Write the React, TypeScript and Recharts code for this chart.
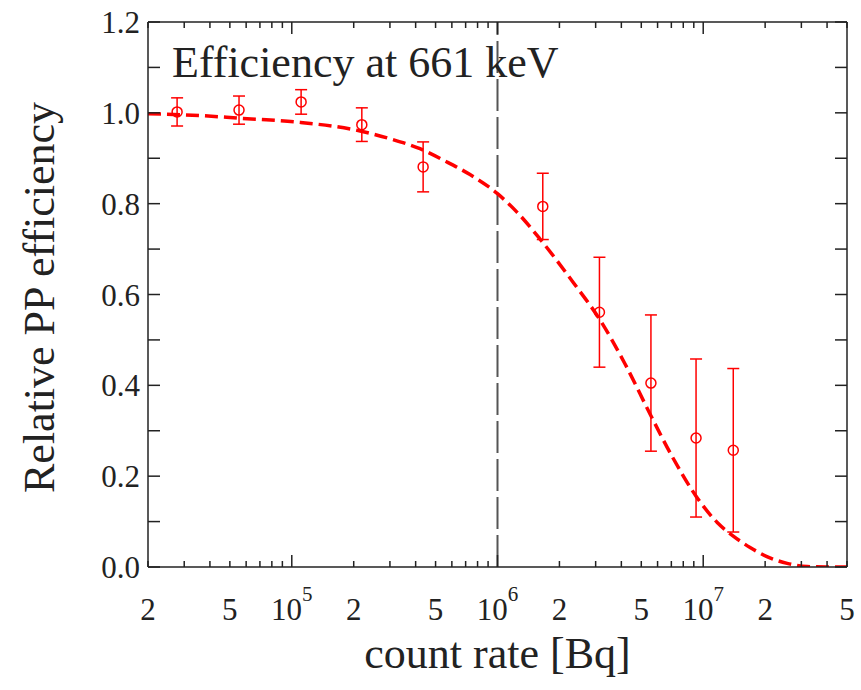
import React from "react";
import {
  ComposedChart,
  Line,
  Scatter,
  ErrorBar,
  XAxis,
  YAxis,
  ReferenceLine,
} from "recharts";

// measured points (count rate, relative efficiency, error)
const rateBq = [2.77e4, 5.54e4, 1.11e5, 2.19e5, 4.35e5, 1.66e6, 3.13e6, 5.57e6, 9.23e6, 1.4e7];
const efficiency = [1.002, 1.006, 1.024, 0.974, 0.881, 0.794, 0.561, 0.405, 0.284, 0.257];
const efficiencyErr = [0.031, 0.031, 0.027, 0.037, 0.055, 0.073, 0.121, 0.15, 0.174, 0.18];

// fit curve
const fitRate = [
  2.0e4, 3.6e4, 5.6e4, 1.1e5, 2.15e5, 3.0e5, 4.2e5, 5.56e5, 7.35e5, 1.0e6, 1.24e6, 1.61e6, 2.33e6,
  3.15e6, 4.17e6, 5.57e6, 7.13e6, 9.23e6, 1.17e7, 1.4e7, 1.69e7, 2.04e7, 2.56e7, 3.2e7, 4.0e7, 5.0e7,
];
const fitEff = [
  0.998, 0.994, 0.988, 0.979, 0.96, 0.943, 0.921, 0.894, 0.864, 0.822, 0.782, 0.722, 0.627,
  0.544, 0.447, 0.333, 0.24, 0.156, 0.098, 0.068, 0.043, 0.023, 0.008, 0.001, 0.0, 0.0,
];

const xTicks = [
  2e4, 3e4, 4e4, 5e4, 6e4, 7e4, 8e4, 9e4,
  1e5, 2e5, 3e5, 4e5, 5e5, 6e5, 7e5, 8e5, 9e5,
  1e6, 2e6, 3e6, 4e6, 5e6, 6e6, 7e6, 8e6, 9e6,
  1e7, 2e7, 3e7, 4e7, 5e7,
];
const xLabelTicks = [2e4, 5e4, 1e5, 2e5, 5e5, 1e6, 2e6, 5e6, 1e7, 2e7, 5e7];
const yTicks = [0, 0.1, 0.2, 0.3, 0.4, 0.5, 0.6, 0.7, 0.8, 0.9, 1.0, 1.1, 1.2];
const yLabelTicks = [0, 0.2, 0.4, 0.6, 0.8, 1.0, 1.2];

const FONT = "'Liberation Serif', 'Times New Roman', serif";
const RED = "#ff0000";
const AXIS = "#222";

const points = rateBq.map((x, i) => ({ x, y: efficiency[i], err: efficiencyErr[i] }));
const fit = fitRate.map((x, i) => ({ x, y: fitEff[i] }));

const isDecade = (v: number) => {
  const l = Math.log10(v);
  return Math.abs(l - Math.round(l)) < 1e-6;
};

const BottomTick = (props: any) => {
  const { x, y, payload } = props;
  const v = payload.value;
  const major = isDecade(v);
  const len = major ? 12 : 6;
  const labeled = xLabelTicks.some((t) => Math.abs(t - v) / t < 1e-6);
  let label: React.ReactNode = null;
  if (labeled) {
    if (major) {
      label = (
        <text x={x} y={y + 53} textAnchor="middle" fontFamily={FONT} fontSize={31} fill="#222">
          10
          <tspan fontSize={21} dy={-19}>
            {Math.round(Math.log10(v))}
          </tspan>
        </text>
      );
    } else {
      const mant = Math.round(v / Math.pow(10, Math.floor(Math.log10(v) + 1e-9)));
      label = (
        <text x={x} y={y + 53} textAnchor="middle" fontFamily={FONT} fontSize={31} fill="#222">
          {mant}
        </text>
      );
    }
  }
  return (
    <g>
      <line x1={x} y1={y} x2={x} y2={y - len} stroke={AXIS} strokeWidth={1.5} />
      {label}
    </g>
  );
};

const TopTick = (props: any) => {
  const { x, y, payload } = props;
  const len = isDecade(payload.value) ? 12 : 6;
  return <line x1={x} y1={y} x2={x} y2={y + len} stroke={AXIS} strokeWidth={1.5} />;
};

const LeftTick = (props: any) => {
  const { x, y, payload } = props;
  const v = payload.value;
  const labeled = yLabelTicks.some((t) => Math.abs(t - v) < 1e-6);
  return (
    <g>
      <line x1={x} y1={y} x2={x + 12} y2={y} stroke={AXIS} strokeWidth={1.5} />
      {labeled && (
        <text x={x - 8} y={y + 11} textAnchor="end" fontFamily={FONT} fontSize={31} fill="#222">
          {v.toFixed(1)}
        </text>
      )}
    </g>
  );
};

const RightTick = (props: any) => {
  const { x, y } = props;
  return <line x1={x} y1={y} x2={x - 12} y2={y} stroke={AXIS} strokeWidth={1.5} />;
};

const OpenCircle = (props: any) => {
  const { cx, cy } = props;
  return <circle cx={cx} cy={cy} r={5} fill="none" stroke={RED} strokeWidth={1.5} />;
};

export default function App() {
  return (
    <div style={{ position: "absolute", left: 0, top: 0, width: 861, height: 690, background: "#fff" }}>
      <ComposedChart width={861} height={690} margin={{ top: 21, right: 13, bottom: 13, left: 0 }}>
        <XAxis
          xAxisId="b"
          dataKey="x"
          type="number"
          scale="log"
          domain={[2e4, 5e7]}
          ticks={xTicks}
          interval={0}
          allowDataOverflow
          height={110}
          tickSize={0}
          tickMargin={0}
          tickLine={false}
          axisLine={{ stroke: AXIS, strokeWidth: 1.5 }}
          tick={<BottomTick />}
          label={{
            content: ({ viewBox }: any) => (
              <text
                x={viewBox.x + viewBox.width / 2}
                y={viewBox.y + 101}
                textAnchor="middle"
                fontFamily={FONT}
                fontSize={44}
                fill="#222"
              >
                count rate [Bq]
              </text>
            ),
          }}
        />
        <XAxis
          xAxisId="t"
          orientation="top"
          dataKey="x"
          type="number"
          scale="log"
          domain={[2e4, 5e7]}
          ticks={xTicks}
          interval={0}
          allowDataOverflow
          height={1}
          tickSize={0}
          tickMargin={0}
          tickLine={false}
          axisLine={{ stroke: AXIS, strokeWidth: 1.5 }}
          tick={<TopTick />}
        />
        <YAxis
          yAxisId="l"
          dataKey="y"
          type="number"
          domain={[0, 1.2]}
          ticks={yTicks}
          interval={0}
          allowDataOverflow
          width={148}
          tickSize={0}
          tickMargin={0}
          tickLine={false}
          axisLine={{ stroke: AXIS, strokeWidth: 1.5 }}
          tick={<LeftTick />}
          label={{
            content: ({ viewBox }: any) => {
              const cx = viewBox.x + 54;
              const cy = viewBox.y + viewBox.height / 2 + 3;
              return (
                <text
                  x={cx}
                  y={cy}
                  transform={`rotate(-90, ${cx}, ${cy})`}
                  textAnchor="middle"
                  fontFamily={FONT}
                  fontSize={44}
                  fill="#222"
                >
                  Relative PP efficiency
                </text>
              );
            },
          }}
        />
        <YAxis
          yAxisId="r"
          orientation="right"
          type="number"
          domain={[0, 1.2]}
          ticks={yTicks}
          interval={0}
          allowDataOverflow
          width={1}
          tickSize={0}
          tickMargin={0}
          tickLine={false}
          axisLine={{ stroke: AXIS, strokeWidth: 1.5 }}
          tick={<RightTick />}
        />
        <ReferenceLine
          xAxisId="b"
          yAxisId="l"
          x={1e6}
          stroke="#555"
          strokeWidth={2}
          strokeDasharray="32 6"
        />
        <Line
          xAxisId="b"
          yAxisId="l"
          data={fit}
          dataKey="y"
          type="monotone"
          stroke={RED}
          strokeWidth={3.5}
          strokeDasharray="13 6"
          dot={false}
          activeDot={false}
          isAnimationActive={false}
        />
        <Scatter
          xAxisId="b"
          yAxisId="l"
          data={points}
          dataKey="y"
          shape={<OpenCircle />}
          isAnimationActive={false}
        >
          <ErrorBar dataKey="err" direction="y" stroke={RED} strokeWidth={1.5} width={6} isAnimationActive={false} />
        </Scatter>
      </ComposedChart>
      <svg
        width={861}
        height={690}
        style={{ position: "absolute", left: 0, top: 0, pointerEvents: "none" }}
      >
        <text x={172} y={77} fontFamily={FONT} fontSize={44} fill="#222">
          Efficiency at 661 keV
        </text>
      </svg>
    </div>
  );
}
